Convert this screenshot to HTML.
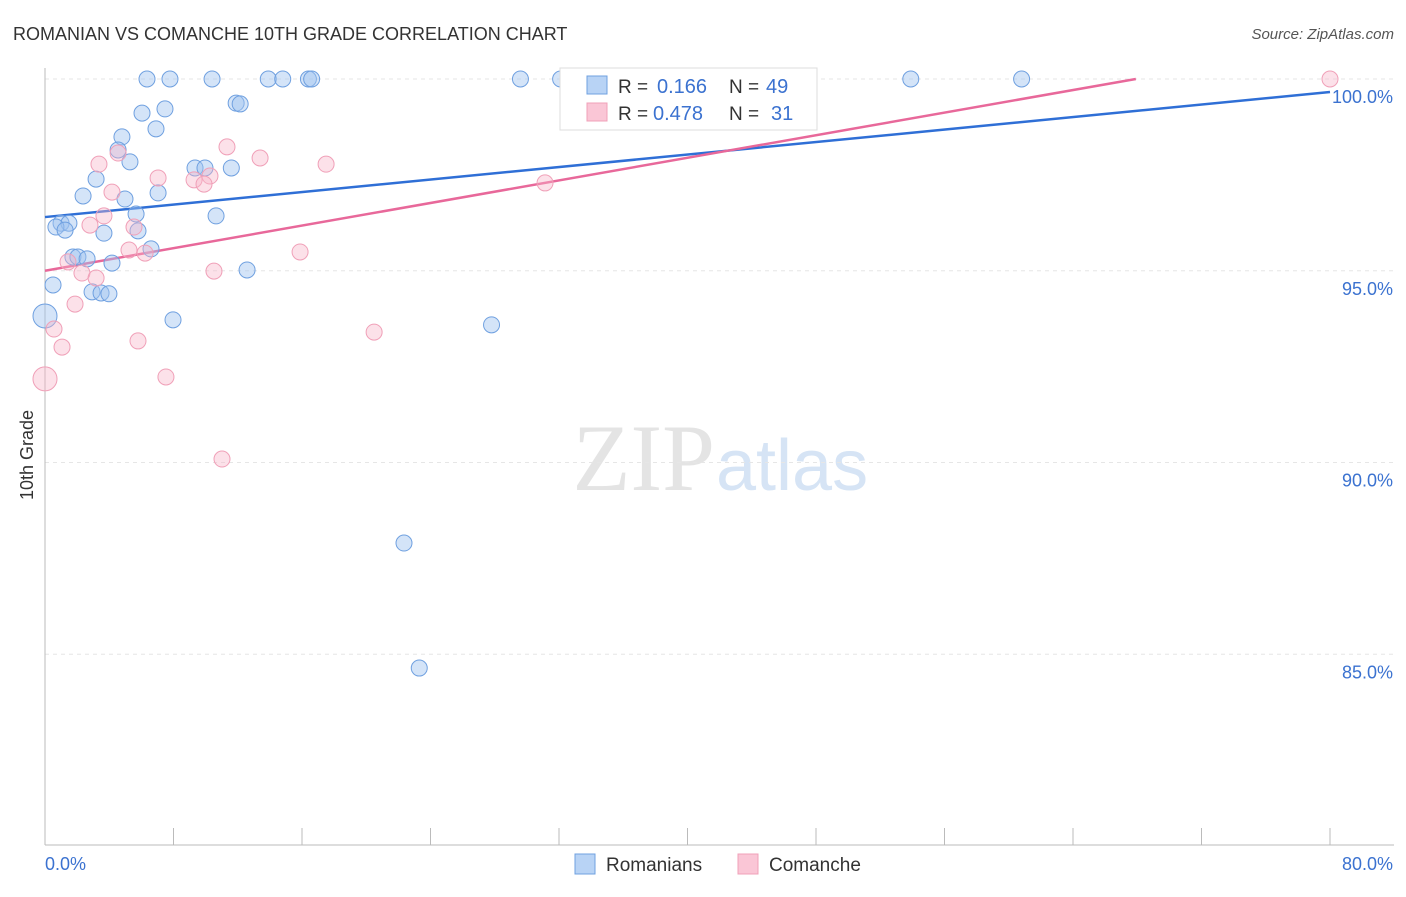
<!DOCTYPE html>
<html><head><meta charset="utf-8"><style>
body{margin:0;background:#fff;font-family:"Liberation Sans",sans-serif}
</style></head><body>
<svg id="chart" width="1406" height="892" xmlns="http://www.w3.org/2000/svg" font-family="Liberation Sans, sans-serif">
<text x="13" y="40" font-size="18" fill="#333">ROMANIAN VS COMANCHE 10TH GRADE CORRELATION CHART</text>
<text x="1394" y="39" font-size="15" fill="#555" text-anchor="end" font-style="italic">Source: ZipAtlas.com</text>
<text transform="translate(33,455) rotate(-90)" font-size="18" fill="#333" text-anchor="middle">10th Grade</text>
<text x="715" y="490" font-size="95" fill="#e4e4e4" text-anchor="end" font-family="Liberation Serif, serif">ZIP</text>
<text x="716" y="490" font-size="72" fill="#d6e4f5">atlas</text>
<g id="grid"></g><g id="axes"></g><g id="lines"></g><g id="pts"></g>
<g>
<rect x="560" y="68" width="257" height="62" fill="#fff" stroke="#ddd"/>
<rect x="587" y="76" width="20" height="18" fill="#b8d3f5" stroke="#6fa0e0"/>
<text x="618" y="93" font-size="19" fill="#333">R =</text>
<text x="657" y="93" font-size="20" fill="#3b72d0">0.166</text>
<text x="729" y="93" font-size="19" fill="#333">N =</text>
<text x="766" y="93" font-size="20" fill="#3b72d0">49</text>
<rect x="587" y="103" width="20" height="18" fill="#fac6d6" stroke="#f0a0b8"/>
<text x="618" y="120" font-size="19" fill="#333">R =</text>
<text x="653" y="120" font-size="20" fill="#3b72d0">0.478</text>
<text x="729" y="120" font-size="19" fill="#333">N =</text>
<text x="771" y="120" font-size="20" fill="#3b72d0">31</text>
</g>
<g>
<rect x="575" y="854" width="20" height="20" fill="#b8d3f5" stroke="#6fa0e0"/>
<text x="606" y="871" font-size="19" fill="#333">Romanians</text>
<rect x="738" y="854" width="20" height="20" fill="#fac6d6" stroke="#f0a0b8"/>
<text x="769" y="871" font-size="19" fill="#333">Comanche</text>
</g>
</svg>
<script>
const blueX=[6.35,7.78,10.4,13.9,14.8,16.4,16.6,29.6,32.1,53.9,60.8,11.9,12.15,7.47,6.04,6.91,4.79,4.55,5.29,9.34,9.96,11.6,3.18,2.37,7.04,4.98,5.67,10.65,1.0,1.49,0.68,1.25,3.67,5.79,6.6,1.74,2.05,2.62,4.17,12.58,0.5,2.93,3.49,3.98,7.97,27.8,0.0,22.35,23.3];
const blueY=[100,100,100,100,100,100,100,100,100,100,100,99.37,99.35,99.22,99.11,98.7,98.49,98.15,97.84,97.68,97.68,97.68,97.39,96.95,97.03,96.87,96.48,96.43,96.24,96.24,96.14,96.06,95.98,96.04,95.57,95.36,95.36,95.31,95.2,95.02,94.63,94.45,94.42,94.4,93.72,93.59,93.82,87.9,84.64];
const pinkX=[80,33.25,11.33,4.55,13.39,3.36,17.5,7.04,9.28,10.27,9.9,31.13,4.17,3.67,2.8,5.54,5.23,6.23,15.88,1.43,2.3,3.18,10.52,1.87,0.56,5.79,1.06,20.49,7.53,0,11.02];
const pinkY=[100,100,98.23,98.07,97.94,97.78,97.78,97.42,97.37,97.47,97.26,97.29,97.05,96.43,96.19,96.14,95.54,95.46,95.49,95.23,94.94,94.81,94.99,94.13,93.48,93.17,93.01,93.4,92.23,92.18,90.09];
const blueLine=[96.4,99.66];
const pinkLine=[95.0,100.89];
const yTicks=[100,95,90,85];
const xTickLabels=["0.0%","80.0%"];
const NS="http://www.w3.org/2000/svg";
const X=v=>45+v*1285/80, Y=v=>79+(100-v)*38.35;
function mk(p,t,a){const e=document.createElementNS(NS,t);for(const k in a)e.setAttribute(k,a[k]);document.getElementById(p).appendChild(e);return e;}
yTicks.forEach(t=>{
 const l=mk('grid','line',{x1:45,x2:1394,y1:Y(t),y2:Y(t),stroke:'#e6e6e6','stroke-dasharray':'4,4'});
 
 
 const tx=mk('grid','text',{x:1393,y:Y(t)+24,'font-size':18,fill:'#3b72d0','text-anchor':'end'});
 tx.textContent=t.toFixed(1)+'%';
 
 
});
const ax=mk('axes','line',{x1:45,x2:45,y1:68,y2:845,stroke:'#bbb'});


const bx=mk('axes','line',{x1:45,x2:1394,y1:845,y2:845,stroke:'#bbb'});


for(let i=0;i<=10;i++){const t=mk('axes','line',{x1:X(i*8),x2:X(i*8),y1:828,y2:845,stroke:'#bbb'});
 
 }
[[0,'start'],[80,'end']].forEach((d,i)=>{const t=mk('axes','text',{x:X(d[0])+(i?63:0),y:870,'font-size':18,fill:'#3b72d0','text-anchor':d[1]});
 t.textContent=xTickLabels[i];
 
 });
function dots(xs,ys,fill,stroke,name){xs.forEach((x,i)=>{const r=(x===0)?12:8;
 const c=mk('pts','circle',{cx:X(x),cy:Y(ys[i]),r:r,fill:fill,stroke:stroke,'stroke-width':1});
 
 });}
dots(blueX,blueY,'rgba(160,196,240,0.45)','#6fa0e0','romanians-point');
dots(pinkX,pinkY,'rgba(248,180,200,0.4)','#f0a0b8','comanche-point');
const bl=mk('lines','line',{x1:X(0),y1:Y(blueLine[0]),x2:X(80),y2:Y(blueLine[1]),stroke:'#2f6fd6','stroke-width':2.5});


const xe=(100-pinkLine[0])/(pinkLine[1]-pinkLine[0])*80;
const pl=mk('lines','line',{x1:X(0),y1:Y(pinkLine[0]),x2:X(xe),y2:Y(100),stroke:'#e8689a','stroke-width':2.5});


</script>
</body></html>
